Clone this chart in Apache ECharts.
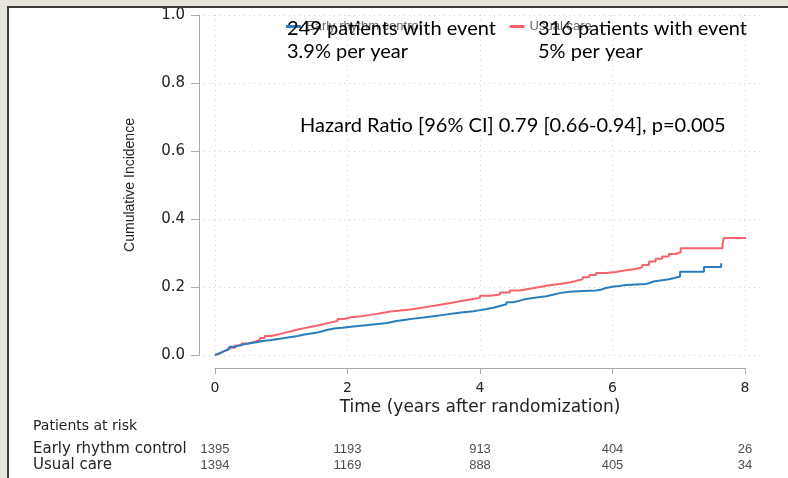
<!DOCTYPE html>
<html>
<head>
<meta charset="utf-8">
<script src="https://cdn.jsdelivr.net/npm/echarts@6/dist/echarts.min.js"></script>
<style>
html,body{margin:0;padding:0;background:#fff;}
#chart{width:788px;height:478px;}
</style>
</head>
<body>
<div id="chart"></div>
<script>
// ---- Data ----
var seriesNames = ['Early rhythm control', 'Usual care'];
// Cumulative incidence step points [years, incidence]
var earlyRhythm = [
  [0,0],[0.03,0.004],[0.06,0.008],[0.1,0.013],[0.15,0.018],[0.22,0.024],[0.3,0.029],[0.38,0.033],
  [0.48,0.037],[0.6,0.041],[0.72,0.044],[0.85,0.047],[0.95,0.05],[1.05,0.053],[1.15,0.056],[1.25,0.06],
  [1.35,0.063],[1.45,0.066],[1.55,0.07],[1.62,0.074],[1.7,0.078],[1.8,0.08],[1.92,0.083],[2.05,0.086],
  [2.2,0.089],[2.35,0.092],[2.5,0.094],[2.6,0.099],[2.72,0.103],[2.85,0.107],[3.0,0.11],[3.15,0.114],
  [3.3,0.118],[3.45,0.122],[3.6,0.126],[3.75,0.129],[3.9,0.132],[4.0,0.135],[4.1,0.139],[4.2,0.144],
  [4.3,0.149],[4.4,0.155],[4.5,0.16],[4.6,0.165],[4.7,0.169],[4.85,0.173],[5.0,0.177],[5.1,0.182],
  [5.2,0.186],[5.35,0.188],[5.55,0.19],[5.75,0.192],[5.82,0.197],[5.9,0.201],[6.0,0.203],[6.1,0.206],
  [6.2,0.209],[6.5,0.211],[6.55,0.216],[6.62,0.22],[6.75,0.223],[6.85,0.227],[6.95,0.231],[7.02,0.245],
  [7.38,0.259],[7.64,0.27]
];
var usualCare = [
  [0,0],[0.03,0.005],[0.07,0.01],[0.12,0.015],[0.2,0.021],[0.3,0.028],[0.4,0.034],[0.5,0.039],
  [0.6,0.044],[0.68,0.05],[0.75,0.056],[0.85,0.06],[0.95,0.065],[1.05,0.07],[1.15,0.075],[1.25,0.079],
  [1.35,0.083],[1.45,0.087],[1.55,0.091],[1.65,0.096],[1.75,0.1],[1.85,0.106],[1.95,0.111],[2.05,0.114],
  [2.2,0.118],[2.35,0.123],[2.5,0.128],[2.65,0.131],[2.8,0.134],[2.95,0.138],[3.1,0.143],[3.25,0.148],
  [3.4,0.153],[3.55,0.158],[3.7,0.163],[3.85,0.168],[4.0,0.174],[4.15,0.178],[4.3,0.184],[4.45,0.19],
  [4.6,0.195],[4.75,0.2],[4.9,0.205],[5.05,0.209],[5.2,0.213],[5.35,0.218],[5.45,0.223],[5.55,0.229],
  [5.65,0.235],[5.75,0.241],[5.9,0.244],[6.05,0.249],[6.2,0.253],[6.35,0.258],[6.45,0.265],[6.55,0.275],
  [6.65,0.283],[6.75,0.29],[6.85,0.297],[6.95,0.302],[7.03,0.314],[7.66,0.325],[7.68,0.344],[8.03,0.344]
];
var xTicks = [0, 2, 4, 6, 8];
var yTicks = [0, 0.2, 0.4, 0.6, 0.8, 1.0];
var atRiskTimes = [0, 2, 4, 6, 8];
var atRiskEarly = [1395, 1193, 913, 404, 26];
var atRiskUsual = [1394, 1169, 888, 405, 34];
var annotEarly = ['249 patients with event', '3.9% per year'];
var annotUsual = ['316 patients with event', '5% per year'];
var annotHR = 'Hazard Ratio [96% CI] 0.79 [0.66-0.94], p=0.005';

// ---- Chart ----
var colors = ['#2a7dbd', '#f7636a'];
var sansFont = 'Liberation Sans, Arial, sans-serif';
var wideFont = '"DejaVu Sans", sans-serif';
var noteFont = 'Lato, "Open Sans", sans-serif';
var chart = echarts.init(document.getElementById('chart'), null, {renderer: 'canvas'});

var riskData = [];
atRiskTimes.forEach(function (t, i) {
  riskData.push([t, seriesNames[0], atRiskEarly[i]]);
  riskData.push([t, seriesNames[1], atRiskUsual[i]]);
});

var option = {
  animation: false,
  backgroundColor: '#ffffff',
  title: {
    text: 'Patients at risk',
    left: 28, top: 414,
    textStyle: {fontFamily: wideFont, fontSize: 14, fontWeight: 'normal', color: '#222'}
  },
  legend: {
    data: seriesNames,
    left: 281, top: 15,
    itemWidth: 15, itemHeight: 3, itemGap: 88,
    icon: 'rect',
    textStyle: {fontFamily: sansFont, fontSize: 13, color: '#666'}
  },
  grid: [
    {left: 215, right: 43, top: 15, height: 340},
    {left: 199, right: 28, top: 15, height: 340},
    {left: 215, right: 43, top: 441, height: 32},
    {left: 215, right: 43, top: 367, height: 1}
  ],
  xAxis: [
    {
      gridIndex: 0, type: 'value', min: 0, max: 8, interval: 2,
      axisLine: {show: false}, axisTick: {show: false}, axisLabel: {show: false},
      splitLine: {show: true, lineStyle: {color: '#d4d4d4', type: [1, 4], width: 1}}
    },
    {
      gridIndex: 1, type: 'value', min: 0, max: 1, show: false
    },
    {
      gridIndex: 2, type: 'value', min: 0, max: 8, interval: 2, show: false
    },
    {
      gridIndex: 3, type: 'value', min: 0, max: 8, interval: 2, position: 'bottom',
      axisLine: {show: true, lineStyle: {color: '#aaa', width: 1}},
      axisTick: {show: true, length: 6, lineStyle: {color: '#aaa'}},
      axisLabel: {fontFamily: wideFont, fontSize: 14, color: '#222', margin: 13},
      splitLine: {show: false},
      name: 'Time (years after randomization)',
      nameLocation: 'middle', nameGap: 31,
      nameTextStyle: {fontFamily: wideFont, fontSize: 17, color: '#222'}
    }
  ],
  yAxis: [
    {gridIndex: 0, type: 'value', min: 0, max: 1, show: false},
    {
      gridIndex: 1, type: 'value', min: 0, max: 1, interval: 0.2,
      axisLine: {show: true, lineStyle: {color: '#aaa', width: 1}},
      axisTick: {show: true, length: 8, lineStyle: {color: '#aaa'}},
      axisLabel: {fontFamily: wideFont, fontSize: 15, color: '#222', margin: 14,
        formatter: function (v) { return v.toFixed(1); }},
      splitLine: {show: true, lineStyle: {color: '#d4d4d4', type: [1, 4], width: 1}},
      name: 'Cumulative Incidence',
      nameLocation: 'middle', nameGap: 62, nameRotate: 90,
      nameTextStyle: {fontFamily: sansFont, fontSize: 14, color: '#222'}
    },
    {
      gridIndex: 2, type: 'category', data: seriesNames, inverse: true,
      axisLine: {show: false}, axisTick: {show: false}, splitLine: {show: false},
      axisLabel: {fontFamily: wideFont, fontSize: 15, color: '#222', align: 'left', margin: 182, interval: 0}
    },
    {gridIndex: 3, type: 'value', min: 0, max: 1, show: false}
  ],
  series: [
    {
      name: seriesNames[0], type: 'line', step: 'end', xAxisIndex: 0, yAxisIndex: 0,
      data: earlyRhythm, symbol: 'none', clip: false, z: 3,
      lineStyle: {color: colors[0], width: 2}, itemStyle: {color: colors[0]}
    },
    {
      name: seriesNames[1], type: 'line', step: 'end', xAxisIndex: 0, yAxisIndex: 0,
      data: usualCare, symbol: 'none', clip: false, z: 2,
      lineStyle: {color: colors[1], width: 2}, itemStyle: {color: colors[1]}
    },
    {
      type: 'scatter', xAxisIndex: 2, yAxisIndex: 2, data: riskData,
      symbolSize: 0, silent: true,
      label: {show: true, position: 'inside', fontFamily: sansFont, fontSize: 13, color: '#222',
        formatter: function (p) { return String(p.value[2]); }}
    }
  ],
  graphic: [
    {type: 'rect', shape: {x: 0, y: 0, width: 788, height: 6}, style: {fill: '#e8e6dc'}, z: 100},
    {type: 'rect', shape: {x: 0, y: 6, width: 788, height: 2}, style: {fill: '#3c3c3c'}, z: 100},
    {type: 'rect', shape: {x: 0, y: 0, width: 7, height: 478}, style: {fill: '#e8e6dc'}, z: 100},
    {type: 'rect', shape: {x: 7, y: 6, width: 2, height: 472}, style: {fill: '#3c3c3c'}, z: 100},
    {type: 'text', left: 287, top: 19, z: 100,
      style: {text: annotEarly[0], font: '20px ' + noteFont, fill: '#000'}},
    {type: 'text', left: 287, top: 42, z: 100,
      style: {text: annotEarly[1], font: '20px ' + noteFont, fill: '#000'}},
    {type: 'text', left: 538, top: 19, z: 100,
      style: {text: annotUsual[0], font: '20px ' + noteFont, fill: '#000'}},
    {type: 'text', left: 538, top: 42, z: 100,
      style: {text: annotUsual[1], font: '20px ' + noteFont, fill: '#000'}},
    {type: 'text', left: 300, top: 116, z: 100,
      style: {text: annotHR, font: '20px ' + noteFont, fill: '#000'}}
  ]
};
chart.setOption(option);
</script>
</body>
</html>
